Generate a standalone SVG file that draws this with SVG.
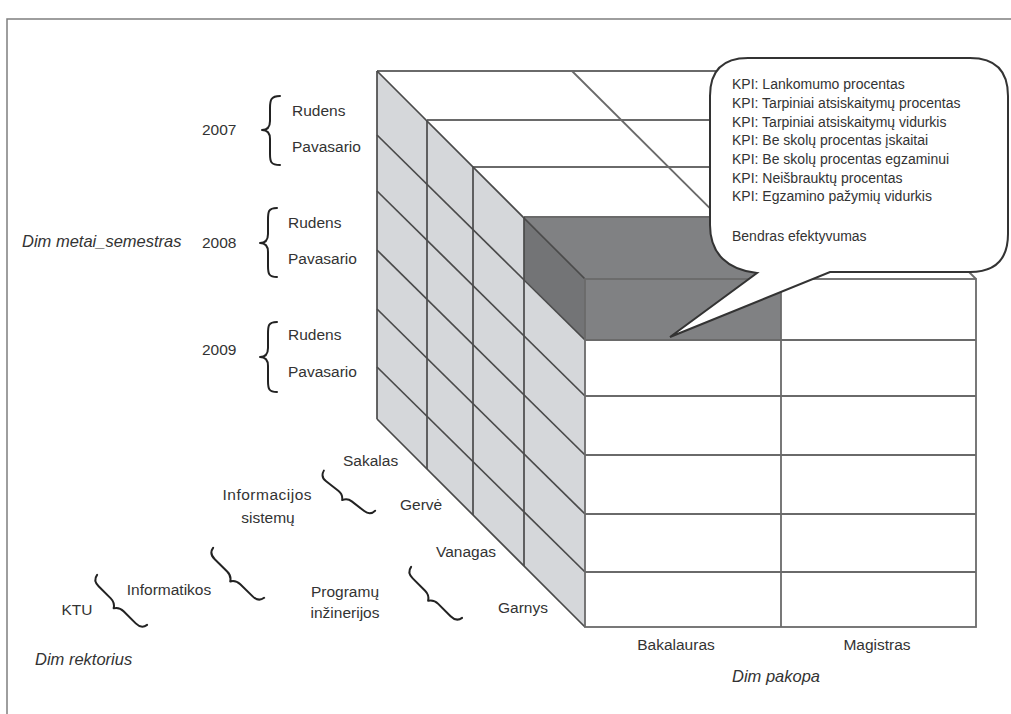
<svg xmlns="http://www.w3.org/2000/svg" width="1011" height="714" viewBox="0 0 1011 714">
  <style>
    .lbl { font-family: "Liberation Sans", Arial, sans-serif; font-size: 15.5px; fill: #333; }
    .dim { font-family: "Liberation Sans", Arial, sans-serif; font-size: 16.5px; font-style: italic; fill: #333; }
    .kpi { font-family: "Liberation Sans", Arial, sans-serif; font-size: 14px; fill: #333; }
    .edge { stroke: #4a4a4a; stroke-width: 1.7; fill: none; }
    .grid { stroke: #6a6a6a; stroke-width: 1.8; fill: none; }
    .brace { stroke: #222; stroke-width: 2; fill: none; stroke-linecap: round; stroke-linejoin: round; }
  </style>
  <defs>
    <!-- curly under-brace, ends at x=0 and x=70, tip pointing to +y -->
    <path id="ubrace" d="M0,-3 Q1,4 9,4 L26,4 Q32,4 35,9 Q38,4 44,4 L61,4 Q69,4 70,-3"/>
  </defs>

  <rect width="1011" height="714" fill="#fff"/>

  <!-- frame -->
  <path id="frame" d="M7,714 L7,19 L1011,19" stroke="#7f7f7f" stroke-width="1.5" fill="none"/>

  <!-- cube faces -->
  <g id="cube">
    <polygon id="face-top" points="377,71 768,71 976,279 585,279" fill="#fff"/>
    <polygon id="face-side" points="377,71 585,279 585,627 377,419" fill="#d5d7da"/>
    <rect id="face-front" x="585" y="279" width="391" height="348" fill="#fff"/>

    <!-- highlighted cell -->
    <polygon id="cell-top" points="524,217 719,217 781,279 585,279" fill="#808183"/>
    <polygon id="cell-side" points="524,217 585,279 585,340 524,279" fill="#737476"/>
    <rect id="cell-front" x="585" y="279" width="196" height="61" fill="#808183"/>

    <!-- top face divisions -->
    <g class="grid">
      <line x1="377" y1="71" x2="768" y2="71"/>
      <line x1="427" y1="120" x2="817" y2="120"/>
      <line x1="473" y1="167" x2="864" y2="167"/>
      <line x1="524" y1="217" x2="914" y2="217"/>
      <line x1="572" y1="71" x2="781" y2="279"/>
      <line x1="768" y1="71" x2="976" y2="279"/>
    </g>

    <!-- side face divisions -->
    <g class="edge">
      <line x1="377" y1="71" x2="377" y2="419"/>
      <line x1="377" y1="71" x2="585" y2="279"/>
      <line x1="377" y1="419" x2="585" y2="627"/>
      <line x1="427" y1="121" x2="427" y2="469"/>
      <line x1="473" y1="167" x2="473" y2="515"/>
      <line x1="524" y1="217" x2="524" y2="566"/>
      <line x1="377" y1="135" x2="585" y2="340"/>
      <line x1="377" y1="191" x2="585" y2="396"/>
      <line x1="377" y1="250" x2="585" y2="455"/>
      <line x1="377" y1="309" x2="585" y2="514"/>
      <line x1="377" y1="367" x2="585" y2="572"/>
    </g>

    <!-- front face divisions -->
    <g class="grid">
      <rect x="585" y="279" width="391" height="348"/>
      <line x1="781" y1="279" x2="781" y2="627"/>
      <line x1="585" y1="340" x2="976" y2="340"/>
      <line x1="585" y1="396" x2="976" y2="396"/>
      <line x1="585" y1="455" x2="976" y2="455"/>
      <line x1="585" y1="514" x2="976" y2="514"/>
      <line x1="585" y1="572" x2="976" y2="572"/>
    </g>
  </g>

  <!-- KPI callout -->
  <g id="callout">
    <path d="M748,58 L970,58 Q1008,58 1008,96 L1008,234 Q1008,272 970,272 L830,272 L670,337 L757,273 C728,270 710,254 710,225 L710,96 Q710,58 748,58 Z" fill="#fff" stroke="#333" stroke-width="2"/>
    <text class="kpi" x="732" y="89">KPI: Lankomumo procentas</text>
    <text class="kpi" x="732" y="108">KPI: Tarpiniai atsiskaitymų procentas</text>
    <text class="kpi" x="732" y="127">KPI: Tarpiniai atsiskaitymų vidurkis</text>
    <text class="kpi" x="732" y="145">KPI: Be skolų procentas įskaitai</text>
    <text class="kpi" x="732" y="164">KPI: Be skolų procentas egzaminui</text>
    <text class="kpi" x="732" y="183">KPI: Neišbrauktų procentas</text>
    <text class="kpi" x="732" y="201">KPI: Egzamino pažymių vidurkis</text>
    <text class="kpi" x="732" y="241">Bendras efektyvumas</text>
  </g>

  <!-- time dimension -->
  <g id="dim-metai">
    <text class="dim" x="22" y="247">Dim metai_semestras</text>
    <g id="y2007">
      <text class="lbl" x="202" y="135">2007</text>
      <path class="brace" d="M280,96 C271,96 270,100 270,108 L270,121 C270,127 267,130 262,130 C267,130 270,133 270,139 L270,154 C270,162 271,165 280,165"/>
      <text class="lbl" x="292" y="116">Rudens</text>
      <text class="lbl" x="292" y="152">Pavasario</text>
    </g>
    <g id="y2008">
      <text class="lbl" x="202" y="248">2008</text>
      <path class="brace" d="M277,208 C268,208 268,212 268,220 L268,234 C268,240 265,243 260,243 C265,243 268,246 268,252 L268,266 C268,274 269,277 277,277"/>
      <text class="lbl" x="288" y="228">Rudens</text>
      <text class="lbl" x="288" y="264">Pavasario</text>
    </g>
    <g id="y2009">
      <text class="lbl" x="202" y="355">2009</text>
      <path class="brace" d="M277,322 C268,322 268,326 268,334 L268,348 C268,354 265,357 260,357 C265,357 268,360 268,366 L268,381 C268,389 269,392 277,392"/>
      <text class="lbl" x="288" y="340">Rudens</text>
      <text class="lbl" x="288" y="377">Pavasario</text>
    </g>
  </g>

  <!-- organisation dimension -->
  <g id="dim-rektorius">
    <text class="dim" x="35" y="665">Dim rektorius</text>
    <text class="lbl" x="77" y="615" text-anchor="middle">KTU</text>
    <use href="#ubrace" class="brace" transform="translate(95,577) rotate(45) scale(1.01,1)"/>
    <text class="lbl" x="169" y="595" text-anchor="middle">Informatikos</text>
    <use href="#ubrace" class="brace" transform="translate(211,550) rotate(44.4) scale(1.02,1)"/>
    <text class="lbl" x="267" y="500" text-anchor="middle" textLength="89">Informacijos</text>
    <text class="lbl" x="268" y="523" text-anchor="middle">sistemų</text>
    <use href="#ubrace" class="brace" transform="translate(322,473) rotate(38) scale(0.93,1)"/>
    <text class="lbl" x="345" y="597" text-anchor="middle">Programų</text>
    <text class="lbl" x="345" y="618" text-anchor="middle">inžinerijos</text>
    <use href="#ubrace" class="brace" transform="translate(409,569) rotate(45) scale(1.03,1)"/>
    <text class="lbl" x="343" y="466">Sakalas</text>
    <text class="lbl" x="400" y="510">Gervė</text>
    <text class="lbl" x="436" y="557">Vanagas</text>
    <text class="lbl" x="498" y="613">Garnys</text>
  </g>

  <!-- level dimension -->
  <g id="dim-pakopa">
    <text class="lbl" x="676" y="650" text-anchor="middle">Bakalauras</text>
    <text class="lbl" x="877" y="650" text-anchor="middle">Magistras</text>
    <text class="dim" x="776" y="682" text-anchor="middle">Dim pakopa</text>
  </g>
</svg>
